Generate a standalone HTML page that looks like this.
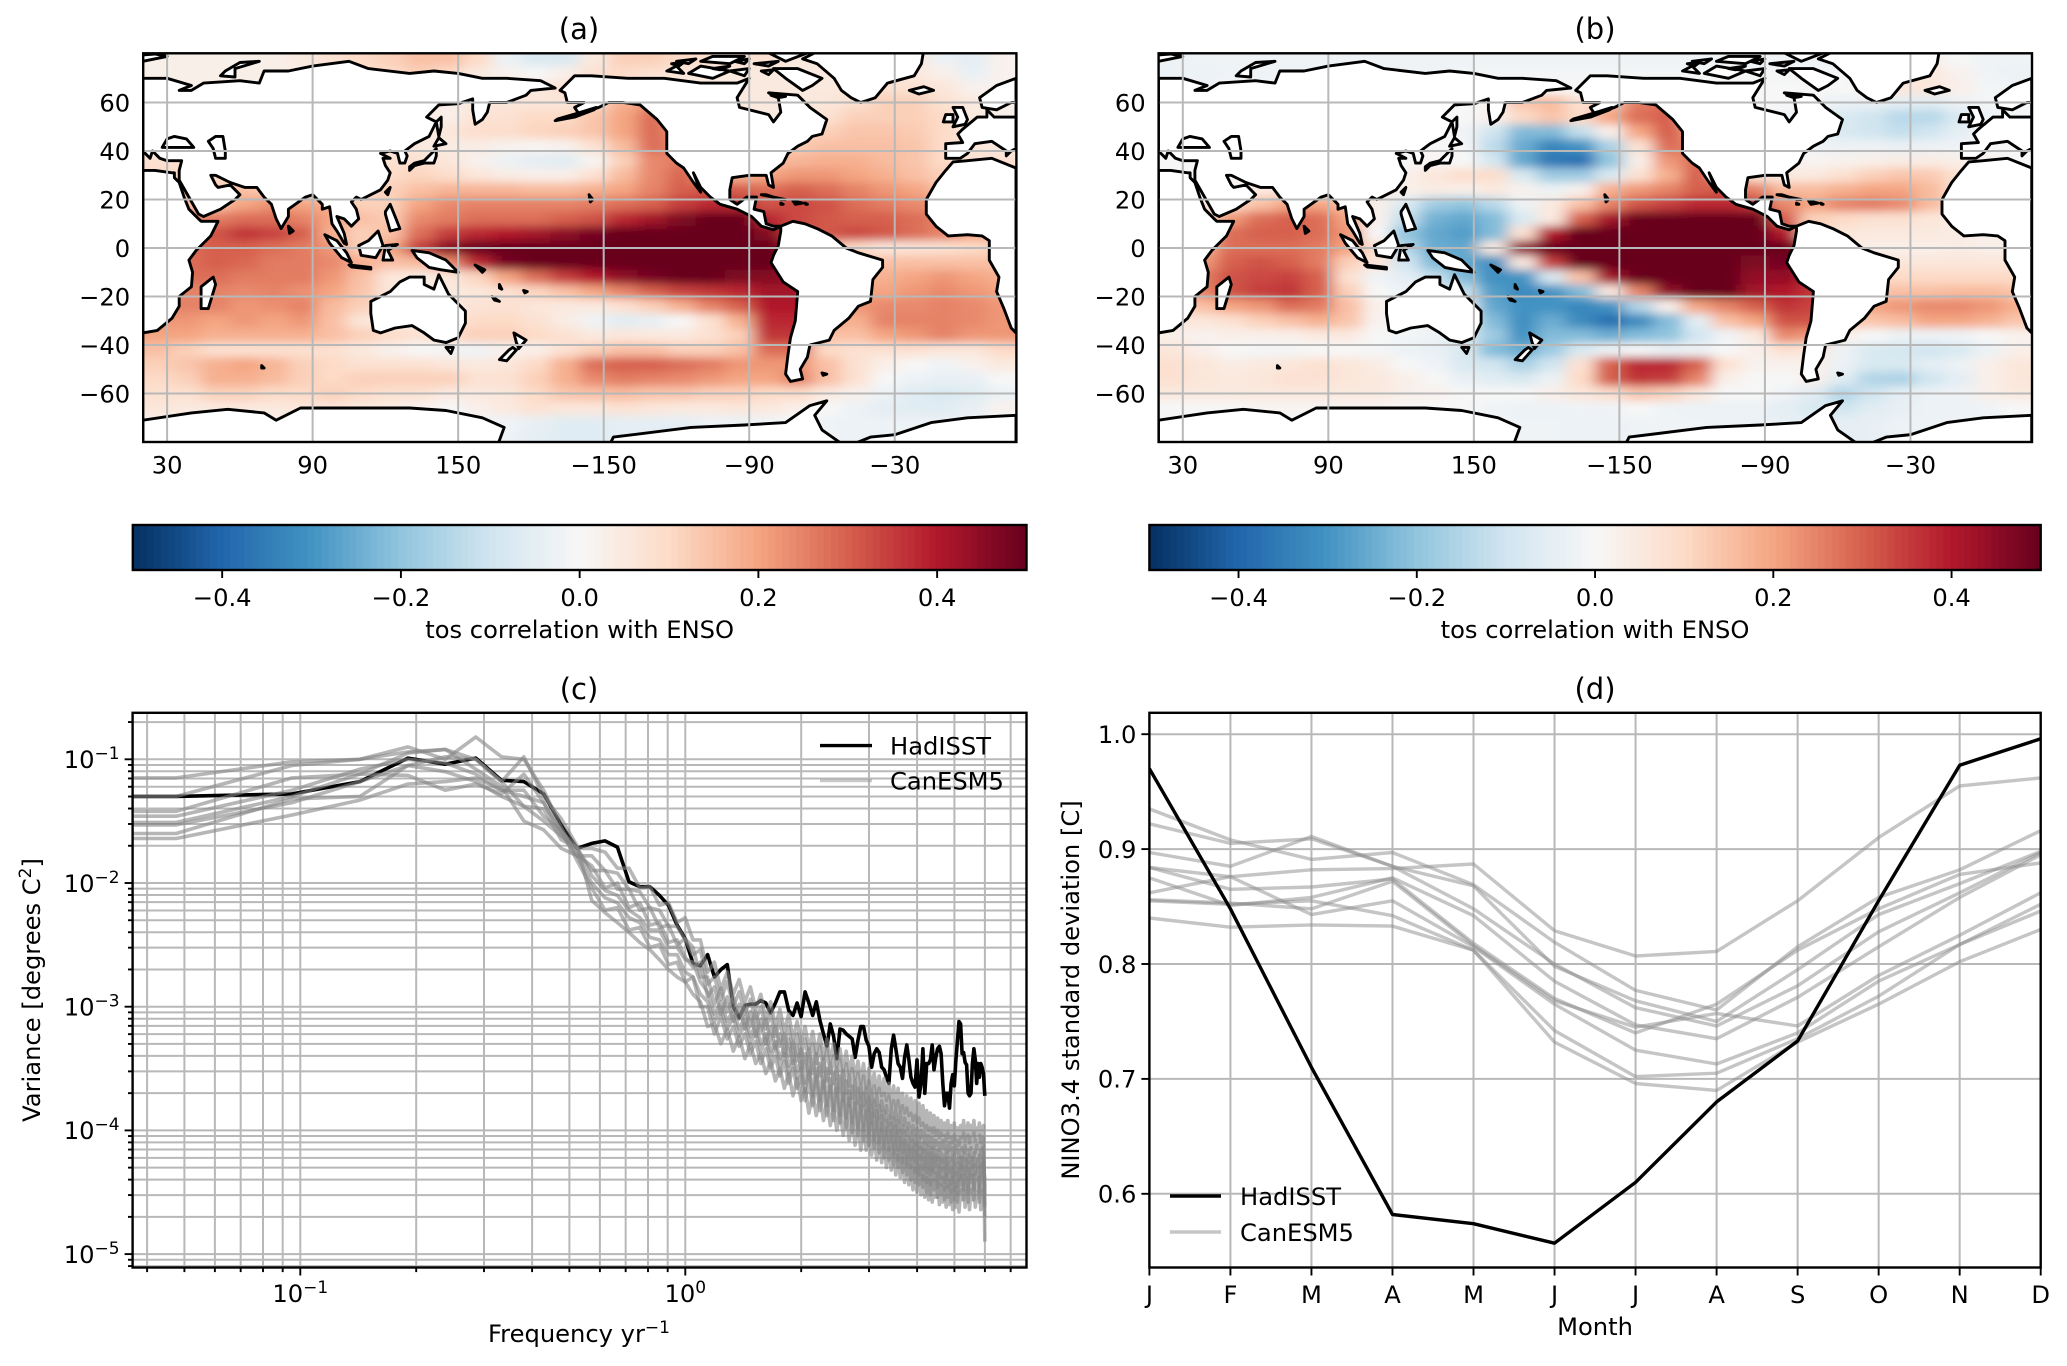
<!DOCTYPE html>
<html lang="en">
<head>
<meta charset="utf-8">
<title>ENSO teleconnections, spectrum and seasonality: HadISST and CanESM5</title>
<style>
html,body{margin:0;padding:0;background:#fff;width:2067px;height:1366px;overflow:hidden}
svg{display:block;font-family:"DejaVu Sans","Liberation Sans",sans-serif;font-size:24.2px;fill:#000}
</style>
</head>
<body>
<svg id="figure" xmlns="http://www.w3.org/2000/svg" width="2067" height="1366" viewBox="0 0 2067 1366">
<defs>
<filter id="map-blur" filterUnits="userSpaceOnUse" x="0" y="0" width="2067" height="500"><feGaussianBlur stdDeviation="8 4.5"/></filter>
<clipPath id="clip-a"><rect x="143" y="53" width="873.5" height="389"/></clipPath>
<clipPath id="clip-b"><rect x="1158.5" y="53" width="873.5" height="389"/></clipPath>
<clipPath id="clip-c"><rect x="132.6" y="712.8" width="893.9" height="554.7"/></clipPath>
<clipPath id="clip-d"><rect x="1149.4" y="712.8" width="891.3" height="554.7"/></clipPath>
</defs>
</svg>
<script>
/* ---------- map data: correlation x100 on a 12 x 6 degree grid ---------- */
const mapLons=[26,38,50,62,74,86,98,110,122,134,146,158,170,182,194,206,218,230,242,254,266,278,290,302,314,326,338,350,362,374];
const mapLats=[78,72,66,60,54,48,42,36,30,24,18,12,6,0,-6,-12,-18,-24,-30,-36,-42,-48,-54,-60,-66,-72,-78];
const lonTicks=[30,90,150,210,270,330];
const lonTickLabels=["30","90","150","\u2212150","\u221290","\u221230"];
const latTicks=[60,40,20,0,-20,-40,-60];
const latTickLabels=["60","40","20","0","\u221220","\u221240","\u221260"];
const tosA=[
[3,3,3,3,3,5,8,10,12,15,15,10,-3,-8,-8,5,12,12,10,8,8,8,5,5,5,5,5,-3,-5,2],
[3,3,3,3,3,3,5,8,10,12,10,5,2,0,3,8,10,8,6,5,5,5,5,5,6,6,5,3,-4,2],
[3,3,3,3,3,3,3,5,5,5,5,5,5,5,8,8,8,5,5,5,5,5,5,5,6,8,8,6,2,2],
[3,3,3,3,3,3,3,5,5,5,3,5,6,6,6,10,18,22,10,5,5,5,5,6,8,12,12,8,5,3],
[3,3,3,3,3,3,3,5,5,5,3,7,8,10,10,14,20,28,20,5,5,5,6,8,12,12,12,10,5,3],
[3,3,3,3,3,3,3,5,5,5,6,9,9,11,12,14,20,28,22,8,5,6,10,12,14,14,13,10,5,3],
[5,5,5,3,3,3,3,5,5,5,4,4,2,1,2,8,16,28,24,10,8,10,13,15,15,15,14,10,6,5],
[8,8,8,5,3,3,3,5,8,8,6,2,-3,-5,-6,1,12,24,26,14,12,15,17,18,18,16,14,10,8,8],
[10,10,10,8,5,3,3,5,10,11,9,6,4,3,3,8,16,24,29,20,18,20,22,22,20,18,15,12,10,10],
[12,12,12,15,12,8,5,8,12,15,17,17,17,16,16,18,20,25,30,32,30,28,30,28,25,22,20,15,12,12],
[15,15,15,20,23,20,18,12,12,20,24,25,25,25,25,26,28,30,35,38,38,32,33,32,28,26,24,22,20,18],
[22,25,26,28,28,25,20,15,13,24,26,28,28,28,30,32,38,42,47,50,50,38,33,31,30,30,28,25,22,20],
[25,30,32,36,34,30,18,12,15,28,35,38,40,42,45,48,50,50,50,50,50,46,32,31,33,31,28,25,20,18],
[25,28,30,30,28,26,22,12,20,35,46,50,50,50,50,50,50,50,50,50,50,50,40,15,10,6,7,8,10,12],
[25,28,30,29,26,26,24,18,15,16,24,38,48,50,50,50,50,50,50,50,50,50,40,15,15,15,15,15,15,15],
[25,28,28,26,26,26,22,15,6,4,6,11,20,28,35,40,45,48,50,50,47,46,42,18,18,18,20,22,20,18],
[25,25,25,24,25,23,20,14,6,4,5,6,8,11,15,20,25,30,34,36,38,42,42,20,20,20,22,24,22,20],
[25,25,25,22,23,25,16,12,6,4,5,7,8,6,5,5,8,12,18,25,30,40,40,22,22,24,24,25,24,22],
[22,22,20,22,20,22,15,6,4,4,6,10,10,8,4,-2,-6,-4,0,8,18,38,38,20,18,25,25,25,24,22],
[20,20,18,18,18,18,15,12,10,8,10,12,12,10,8,5,6,5,5,8,12,36,36,15,15,20,22,25,22,22],
[15,12,8,8,8,8,8,5,2,0,-1,-2,2,3,8,12,15,15,12,12,15,28,28,10,8,8,8,6,6,10],
[12,14,18,20,17,12,10,8,8,8,6,5,6,10,18,28,30,30,28,26,22,22,22,15,8,3,0,-2,2,5],
[10,12,18,18,16,12,10,12,12,12,12,8,8,12,18,24,26,25,24,22,20,20,25,15,8,0,-3,-4,-4,0],
[8,8,12,12,10,10,12,10,8,8,5,5,6,10,14,15,16,14,14,12,12,10,10,5,2,-3,-6,-8,-6,-3],
[6,5,5,5,5,6,6,5,4,2,0,3,5,8,6,6,8,6,5,5,6,5,3,0,-3,-5,-6,-6,-4,2],
[3,3,3,3,3,3,3,3,3,2,0,-2,-2,-4,-6,-6,-5,-5,-5,-3,-3,-2,0,-2,-3,-3,-3,-3,-3,0],
[0,0,0,0,0,0,0,0,0,0,0,-2,-3,-5,-6,-6,-5,-5,-4,-3,-2,-2,-1,-2,-3,-3,-2,-1,0,0]
];
const tosB=[
[-3,-2,-2,-2,-2,-2,-2,-2,-2,-2,-2,-2,-2,-2,-2,-2,-2,-2,-2,-2,-2,-2,-2,-2,-2,3,3,0,-2,-2],
[-3,-3,-2,-2,-2,-2,-2,-2,-2,-2,-1,-1,-1,-1,-1,-1,-1,-1,-1,-1,-1,-1,-1,0,3,5,5,2,-2,-3],
[-2,-2,-1,-1,-1,-1,-1,-1,-1,-1,0,0,0,0,0,0,2,2,0,0,0,0,0,0,3,6,6,3,-1,-2],
[-1,-1,-1,-1,-1,-1,-1,-1,-1,-1,0,2,14,16,8,14,26,28,5,0,0,0,-2,-3,-4,-5,-6,-3,-1,-1],
[-1,-1,-1,-1,-1,-1,-1,-1,-1,0,0,3,10,14,10,20,28,30,8,0,0,-2,-4,-8,-10,-14,-14,-8,-2,-1],
[-1,-1,-1,-1,-1,-1,-1,-1,-1,0,-2,-10,-22,-22,-12,3,20,30,20,2,0,0,-4,-8,-10,-12,-10,-5,-1,-1],
[0,0,0,0,0,0,0,0,0,0,-1,-13,-25,-33,-30,-16,8,28,25,5,0,0,-2,-3,-3,-4,-3,-2,0,0],
[0,0,0,0,0,0,0,0,0,1,0,-9,-26,-36,-38,-20,3,22,28,10,5,3,1,2,3,4,4,3,2,0],
[0,0,0,0,0,0,0,0,3,6,9,9,-8,-18,-18,-8,8,18,30,18,8,5,5,8,12,14,13,8,3,0],
[0,0,3,5,5,3,3,3,3,4,3,5,2,-3,2,18,22,25,30,32,25,16,16,18,20,20,16,8,3,2],
[3,5,10,15,20,20,15,3,-8,-18,-20,-14,-3,5,15,25,32,35,38,38,36,24,20,25,26,24,16,8,4,2],
[5,10,22,28,30,28,20,2,-12,-24,-26,-22,-8,5,30,42,50,50,50,50,50,30,12,10,8,8,6,4,3,2],
[8,15,28,30,30,28,22,0,-20,-26,-28,-22,8,40,50,50,50,50,50,50,50,40,10,6,5,5,5,4,3,2],
[10,18,28,28,28,26,20,8,-15,-25,-26,5,45,50,50,50,50,50,50,50,50,50,40,5,3,3,3,4,3,3],
[12,22,30,32,30,26,12,6,-10,-22,-26,-31,5,35,50,50,50,50,50,50,47,48,38,6,6,6,6,6,6,6],
[15,26,32,33,34,30,8,-2,-5,-12,-22,-31,-30,-8,15,42,50,50,50,50,44,44,38,10,10,10,10,10,10,10],
[12,25,32,35,36,30,12,0,-3,-6,-12,-28,-32,-30,-22,5,25,45,50,50,42,40,36,14,14,15,15,16,16,14],
[10,15,20,22,28,26,15,3,-2,-3,-6,-26,-30,-30,-33,-30,-15,3,20,25,30,36,34,18,20,22,24,24,22,18],
[6,6,8,12,15,18,14,2,-1,-2,-6,-22,-31,-25,-32,-38,-32,-22,-5,15,20,32,32,14,14,16,20,20,18,14],
[3,2,3,3,3,5,5,0,-1,-2,-8,-18,-30,-22,-22,-25,-22,-20,-10,-2,5,24,22,3,0,-3,-3,-2,0,2],
[6,3,0,-1,-1,0,0,-1,-3,-4,-8,-22,-25,-18,-8,-3,0,-3,-3,0,3,8,6,-3,-8,-9,-10,-8,-3,3],
[8,6,4,5,6,8,6,4,0,-2,-8,-10,-16,-10,8,30,38,38,30,8,2,2,3,-3,-8,-8,-5,-3,3,6],
[8,6,5,6,8,8,6,5,3,0,-4,-6,-8,-3,10,30,36,35,25,3,0,0,3,-6,-15,-16,-10,-5,3,6],
[5,5,5,5,5,5,5,5,3,2,0,0,0,3,6,9,14,12,6,0,0,-2,-6,-15,-10,-5,-3,-2,3,5],
[0,0,0,1,1,1,1,1,0,0,0,-2,-3,-3,-2,-2,0,-2,-3,-3,-3,-5,-8,-10,-6,-4,-3,-3,-2,0],
[-1,-1,-1,-1,-1,-1,-1,-1,-1,-1,-1,-1,-2,-2,-3,-3,-2,-2,-2,-3,-3,-4,-5,-5,-4,-3,-3,-2,-2,-1],
[-1,-1,-1,-1,-1,-1,-1,-1,-1,-1,-1,-1,-2,-2,-3,-3,-2,-2,-2,-3,-3,-4,-5,-5,-4,-3,-3,-2,-2,-1]
];
/* coastlines as [lon, lat] rings, lon running 20..380 */
const landRings=[
[[20,-35],[26,-34],[32,-29],[35,-24],[35,-20],[40,-16],[40.5,-10],[39,-5],[42,-1],[48,5],[51,11],[44,11],[43,12],[39,16],[37,21],[35,27],[33,29],[33,31],[32,31],[25,32],[20,32]],
[[380,-35],[378,-33],[375,-25],[372,-18],[373,-12],[369,-5],[369,-1],[369,3],[366,5],[360,5.5],[352,5],[347,9],[343,14],[343,20],[347,27],[351,32],[354,35.5],[360,36],[370,37],[380,33]],
[[351,37],[351,43],[358,43.5],[356,47],[358,49],[364,54],[368,54],[368,57],[371,54],[380,54],[380,60],[378,60],[372,57],[366,58],[365,62],[372,67],[380,70],[380,41],[378,40],[376,38],[376,40],[370,44],[363,43],[360,39],[357,37]],
[[20,40],[23,37],[24,40],[27,37],[30,36],[36,36],[35,32],[35,28],[39,21],[43,14],[45,13],[52,16],[58,20],[60,22],[56,26],[51,25],[50,26],[48,30],[50,30],[56,27],[62,25],[67,25],[70,21],[73,18],[75,12],[77,8],[80,13],[80,16],[87,21],[90,22],[94,18],[94,16],[97,17],[98,10],[100,7],[103,2],[104,1.5],[103,6],[100,13],[103,12],[106,9],[109,12],[108,16],[106,19],[108,21],[110,20],[114,22],[118,24],[121,28],[122,31],[120,34],[119,37],[122,37],[118,39],[122,40],[125,39],[126,35],[128,35],[129,38],[128,40],[132,43],[138,46],[141,52],[137,54],[142,59],[150,59.5],[156,61.5],[156,57],[157,51],[160,53],[162,56],[163,60],[170,60],[178,63],[180,65],[190,66],[184,69],[170,70],[160,70],[150,72],[140,73],[130,72],[113,74],[105,77],[90,75],[80,73],[70,73],[68,68],[60,69],[45,68],[40,65],[35,65],[40,67],[30,70],[20,70]],
[[192,65],[198,71],[205,71],[220,70],[235,70],[250,68],[265,68],[270,70],[265,62],[266,58],[278,55],[280,52],[283,56],[282,62],[278,64],[290,63],[295,58],[302,53],[300,47],[296,46],[294,44],[290,42],[286,39],[284,35],[279,31],[280,25],[278,26],[277,30],[270,30],[263,29],[262,24],[262,20],[265,18],[269,21],[273,21],[272,16],[276,15],[277,10],[280,9],[283,9],[280,7.5],[275,9],[271,13],[265,16],[258,18],[254,21],[250,25],[247,31],[250,23],[247,27],[243,33],[240,35],[236,39],[236,48],[232,53],[225,59],[218,60],[212,60],[208,58],[200,55],[198,58],[202,60],[195,60],[194,64]],
[[283,9],[288,11],[293,10],[298,8],[304,5],[310,0],[315,-2],[325,-5],[325,-8],[321,-13],[320,-22],[315,-24],[311,-29],[305,-34],[303,-38],[295,-40],[294,-45],[291,-50],[292,-54],[287,-55],[285,-52],[286,-44],[287,-37],[289,-30],[290,-18],[284,-14],[279,-6],[280,-3],[282,1],[283,7]],
[[316,60],[322,62],[327,68],[338,71],[341,76],[342,82],[300,82],[292,78],[298,76],[305,70],[308,65],[312,62]],
[[285,70],[292,65],[296,67],[300,70],[290,74],[280,74]],[[245,72],[255,70],[262,73],[250,75]],[[275,82],[285,77],[298,82]],[[236,73],[240,75],[243,72]],[[250,77],[262,76],[268,79],[255,79]],[[262,73],[270,74],[268,71]],[[272,76],[282,77],[278,75]],[[240,77],[248,78],[245,76]],[[255,74],[262,75],[258,73.5]],[[264,77],[270,78],[268,76]],[[275,73],[280,73.5],[278,71.5]],[[238,76],[243,76.5],[241,75]],[[279,63],[285,62.5],[282,62]],
[[336,65],[340,63.5],[346,65],[342,66.5]],[[354,50],[359,51],[360,53],[358,58],[354,58],[356,54]],[[350,52],[354,52],[354,55],[351,55]],
[[12,79],[25,80],[30,79],[20,77]],[[52,71],[58,70.5],[58,74],[68,77],[60,76.5],[54,73]],
[[130,32],[132,34],[136,35],[140,35],[141,38],[141,41],[140,40],[136,36],[132,35],[130,33.5]],[[140,42],[145,43],[142,45.5]],[[142,46],[143,50],[143,54],[141,52]],
[[120,23],[122,25],[121,22]],[[120,15],[122,18],[124,13],[126,8],[122,7],[120,14]],[[109,1],[113,3],[117,7],[119,1],[116,-4],[110,-3]],[[95,5.5],[100,3],[104,-2],[106,-6],[102,-4],[97,2]],[[105,-7],[114,-8],[114,-8.7],[106,-7.8]],[[119,-5],[120,1],[125,1.5],[121,-1],[123,-5]],[[131,-1],[138,-2],[145,-5],[150,-10],[143,-9],[138,-8],[133,-4]],
[[114,-22],[122,-18],[126,-14],[130,-12],[136,-12],[136,-15],[140,-17],[142,-11],[146,-19],[153,-26],[153,-31],[150,-37],[145,-39],[140,-38],[136,-35],[131,-32],[124,-33],[118,-35],[115,-34],[114,-27]],
[[145,-41],[148,-41],[147,-43.5]],[[173,-35],[178,-38],[175,-41.5],[174,-39]],[[172.5,-41],[174,-42],[170,-46.5],[167,-46],[171,-42]],[[44,-25],[47,-25],[50,-15],[49,-12],[44,-16],[44,-22]],[[80,9],[82,7],[80.5,6]],
[[204,22],[205.5,20],[204.5,19]],[[177,-17.5],[178.5,-18],[177.5,-18.5]],[[164,-20],[167,-22],[165,-21.5]],[[167,-15],[168,-17],[167,-16.5]],[[157,-7],[161,-9],[160,-10]],[[300,-51.5],[302,-52],[300.5,-52.5]],[[69,-48.5],[70,-49.5],[69,-49.5]],
[[190,52.5],[198,54],[206,57],[207,58],[199,55.5],[191,53.2]],
[[275,22],[285,20],[283,20],[277,22]],[[288,19.5],[292,18.5],[289,18]],[[293,18.5],[294,18],[293.3,18]],[[283,18.5],[284,18],[283,18]],
[[50,46],[53,46],[54,40],[54,37],[50,37],[49,41],[47,44]],
[[28,41.5],[41,41.5],[38,45],[33,46],[30,45]],
[[20,-71],[40,-68],[55,-66.5],[70,-68],[75,-71],[85,-66],[100,-66],[130,-66],[145,-67],[160,-70],[169,-74],[166,-82],[212,-82],[214,-78],[246,-74],[268,-73],[285,-72],[295,-65],[302,-63],[297,-69],[300,-75],[310,-82],[320,-78],[330,-77],[345,-72],[360,-70],[380,-69],[380,-90],[20,-90]]
];
/* ---------- colour bar ---------- */
const rdBuStops=["#053061","#2166ac","#4393c3","#92c5de","#d1e5f0","#f7f7f7","#fddbc7","#f4a582","#d6604d","#b2182b","#67001f"];
const cbarTicks=[-0.4,-0.2,0,0.2,0.4];
const cbarTickLabels=["\u22120.4","\u22120.2","0.0","0.2","0.4"];
/* ---------- panel c: log10(variance) x100, one value per frequency harmonic ---------- */
const freqStep=0.0476;
const freqLeftEdge=0.0366;
const hadSpectrum=[-130,-128,-118,-99,-104,-99,-117,-118,-128,-153,-172,-168,-166,-171,-199,-203,-203,-210,-218,-234,-245,-265,-267,-258,-276,-270,-266,-300,-309,-299,-298,-298,-295,-297,-305,-297,-288,-288,-303,-307,-297,-308,-288,-297,-307,-296,-311,-322,-332,-314,-324,-342,-318,-319,-322,-324,-326,-341,-327,-316,-316,-327,-332,-349,-338,-334,-337,-349,-351,-357,-362,-334,-323,-334,-346,-349,-358,-341,-331,-343,-357,-362,-365,-343,-373,-362,-334,-370,-346,-346,-343,-331,-351,-341,-334,-332,-338,-362,-380,-370,-370,-382,-362,-355,-364,-343,-327,-312,-314,-338,-337,-345,-347,-370,-372,-370,-346,-334,-343,-362,-346,-357,-346,-349,-354,-372];
const canSpectrumA=[-115,-102,-100,-94,-92,-100,-118,-138,-150,-162,-172,-172,-175,-188,-188,-204,-203,-218,-216,-232,-228,-246,-246,-272,-264,-286,-272,-290,-278,-296,-284,-302,-290,-310,-296,-316,-302,-320,-306,-326,-312,-330,-316,-334,-320,-338,-322,-342,-326,-344,-330,-348,-334,-352,-336,-354,-340,-358,-344,-362,-346,-366,-350,-366,-354,-370,-356,-372,-358,-376,-362,-380,-364,-382,-366,-384,-370,-386,-372,-388,-374,-392,-376,-394,-378,-396,-380,-398,-384,-400,-386,-402,-388,-404,-390,-406,-392,-404,-394,-408,-392,-406,-396,-410,-394,-408,-398,-412,-396,-406,-392,-408,-400,-394,-410,-396,-404,-392,-408,-398,-402,-394,-410,-398,-396,-490];
const canSpectrumB=[-130,-105,-100,-90,-100,-82,-98,-100,-125,-155,-178,-178,-190,-192,-205,-207,-220,-222,-235,-235,-246,-258,-254,-282,-276,-294,-280,-300,-288,-306,-294,-312,-300,-318,-306,-324,-312,-330,-316,-336,-322,-340,-326,-344,-330,-346,-332,-352,-334,-354,-340,-358,-342,-362,-346,-364,-350,-368,-354,-372,-356,-376,-360,-378,-364,-380,-366,-384,-370,-386,-372,-390,-376,-392,-376,-394,-380,-396,-382,-398,-386,-402,-388,-404,-390,-406,-394,-410,-396,-412,-398,-414,-398,-412,-400,-416,-402,-414,-404,-418,-402,-416,-406,-420,-404,-418,-408,-422,-406,-416,-402,-418,-410,-404,-420,-406,-414,-402,-418,-408,-412,-404,-420,-408,-406,-460];
const canSpectrumC=[-146,-125,-108,-100,-103,-112,-125,-125,-146,-158,-172,-190,-190,-205,-205,-222,-220,-236,-234,-250,-245,-252,-276,-276,-298,-285,-304,-292,-310,-298,-316,-304,-320,-310,-328,-316,-332,-322,-340,-328,-344,-334,-350,-334,-354,-338,-356,-342,-360,-346,-362,-350,-368,-352,-370,-356,-374,-360,-378,-364,-380,-366,-384,-368,-388,-372,-390,-376,-392,-380,-396,-382,-398,-384,-402,-386,-402,-390,-404,-394,-408,-396,-412,-398,-414,-400,-418,-402,-420,-404,-422,-406,-424,-408,-424,-410,-426,-408,-426,-412,-428,-410,-424,-414,-428,-412,-426,-416,-430,-414,-424,-412,-428,-416,-426,-414,-424,-418,-428,-412,-422,-416,-430,-414,-424,-445];
const canSpectrumD=[-151,-130,-112,-95,-92,-108,-122,-150,-157,-172,-178,-186,-204,-200,-220,-216,-234,-232,-248,-246,-260,-268,-264,-292,-284,-306,-292,-312,-298,-318,-304,-324,-310,-330,-316,-334,-322,-340,-326,-346,-332,-352,-338,-358,-342,-360,-346,-366,-350,-368,-354,-372,-356,-376,-360,-380,-364,-382,-366,-386,-370,-388,-374,-394,-376,-396,-380,-400,-384,-402,-388,-406,-390,-408,-392,-412,-396,-414,-398,-416,-402,-420,-404,-422,-406,-424,-410,-428,-412,-430,-414,-432,-414,-428,-416,-434,-418,-432,-420,-436,-418,-434,-422,-438,-420,-436,-424,-440,-422,-432,-418,-436,-426,-420,-438,-422,-430,-418,-436,-424,-428,-420,-438,-424,-422,-452];
const canSpectrumE=[-153,-135,-118,-105,-110,-118,-130,-138,-140,-165,-172,-194,-206,-210,-222,-228,-238,-238,-252,-252,-262,-264,-280,-288,-306,-296,-312,-302,-318,-308,-324,-314,-330,-322,-336,-328,-342,-332,-348,-338,-352,-344,-362,-346,-368,-350,-370,-354,-374,-358,-378,-360,-382,-364,-384,-368,-388,-372,-392,-374,-394,-378,-398,-380,-402,-384,-404,-388,-408,-392,-410,-394,-414,-396,-416,-400,-418,-402,-422,-406,-424,-408,-426,-410,-430,-414,-432,-416,-434,-418,-436,-418,-434,-420,-440,-422,-438,-424,-442,-422,-440,-426,-444,-424,-442,-428,-446,-426,-438,-422,-442,-430,-424,-444,-426,-436,-422,-442,-428,-434,-424,-444,-428,-430,-426,-440];
const canSpectrumF=[-164,-145,-133,-120,-118,-115,-125,-130,-135,-160,-178,-200,-212,-216,-228,-232,-244,-246,-258,-258,-272,-276,-290,-296,-312,-302,-318,-308,-324,-314,-330,-320,-336,-326,-342,-332,-348,-338,-354,-344,-358,-350,-368,-352,-372,-356,-376,-360,-380,-364,-384,-366,-388,-370,-390,-374,-394,-378,-398,-380,-400,-384,-404,-386,-408,-390,-410,-394,-414,-398,-416,-400,-420,-402,-424,-406,-426,-408,-428,-412,-430,-414,-434,-416,-436,-420,-440,-422,-442,-424,-444,-424,-440,-426,-446,-428,-444,-430,-448,-428,-446,-432,-450,-430,-448,-434,-452,-432,-444,-428,-448,-436,-430,-450,-432,-442,-428,-448,-434,-440,-430,-450,-434,-436,-432,-448];
const canSpectrumG=[-142,-115,-112,-113,-125,-120,-128,-112,-135,-158,-182,-204,-222,-220,-238,-236,-252,-250,-266,-264,-280,-276,-300,-300,-322,-308,-326,-316,-332,-322,-338,-328,-346,-334,-350,-340,-356,-344,-362,-350,-366,-356,-376,-360,-380,-362,-384,-366,-388,-370,-392,-374,-394,-376,-398,-380,-402,-384,-404,-388,-408,-390,-412,-394,-414,-398,-418,-400,-422,-404,-424,-408,-428,-410,-430,-414,-434,-416,-436,-418,-440,-422,-442,-424,-444,-428,-446,-430,-450,-432,-452,-432,-448,-434,-454,-436,-452,-438,-456,-436,-454,-440,-458,-438,-456,-442,-458,-440,-450,-436,-456,-444,-438,-458,-440,-450,-436,-456,-442,-448,-438,-458,-442,-444,-440,-470];
const canSpectrumH=[-160,-132,-130,-105,-98,-100,-118,-98,-130,-148,-170,-214,-224,-232,-240,-248,-254,-262,-270,-276,-280,-290,-296,-316,-314,-330,-318,-336,-324,-342,-330,-346,-338,-354,-344,-360,-350,-366,-354,-372,-358,-376,-366,-386,-370,-388,-372,-392,-376,-396,-380,-400,-384,-404,-386,-408,-390,-412,-394,-416,-396,-416,-400,-420,-404,-424,-406,-426,-410,-430,-414,-432,-416,-436,-420,-438,-422,-442,-424,-444,-428,-448,-430,-450,-432,-452,-436,-454,-438,-456,-440,-458,-440,-454,-442,-460,-444,-458,-446,-462,-444,-460,-448,-464,-446,-462,-450,-466,-448,-456,-444,-462,-452,-446,-464,-448,-456,-444,-462,-450,-454,-446,-464,-450,-448,-462];
const canSpectra=[canSpectrumA,canSpectrumB,canSpectrumC,canSpectrumD,canSpectrumE,canSpectrumF,canSpectrumG,canSpectrumH];
const specXTicks=[0.1,1];
const specXTickLabels=["\u22121","0"];
const specYTicks=[-1,-2,-3,-4,-5];
const specYTickLabels=["\u22121","\u22122","\u22123","\u22124","\u22125"];
/* ---------- panel d: NINO3.4 standard deviation by month ---------- */
const months=["J","F","M","A","M","J","J","A","S","O","N","D"];
const hadSeason=[0.970,0.848,0.710,0.582,0.574,0.557,0.610,0.680,0.733,0.855,0.973,0.996];
const canSeason1=[0.884,0.876,0.882,0.883,0.887,0.829,0.807,0.811,0.855,0.910,0.955,0.962];
const canSeason2=[0.935,0.908,0.891,0.897,0.869,0.819,0.777,0.760,0.815,0.858,0.882,0.916];
const canSeason3=[0.922,0.905,0.909,0.885,0.868,0.798,0.768,0.750,0.795,0.843,0.870,0.898];
const canSeason4=[0.897,0.885,0.911,0.885,0.848,0.800,0.762,0.746,0.781,0.828,0.862,0.897];
const canSeason5=[0.875,0.851,0.858,0.875,0.842,0.785,0.747,0.735,0.771,0.815,0.858,0.895];
const canSeason6=[0.884,0.865,0.867,0.874,0.818,0.770,0.740,0.765,0.812,0.848,0.878,0.888];
const canSeason7=[0.856,0.853,0.848,0.872,0.816,0.768,0.745,0.757,0.746,0.790,0.825,0.862];
const canSeason8=[0.862,0.876,0.843,0.855,0.815,0.765,0.725,0.713,0.740,0.785,0.817,0.852];
const canSeason9=[0.855,0.852,0.855,0.842,0.812,0.742,0.702,0.705,0.735,0.772,0.817,0.846];
const canSeason10=[0.840,0.832,0.834,0.833,0.812,0.732,0.696,0.690,0.732,0.765,0.802,0.830];
const canSeasons=[canSeason1,canSeason2,canSeason3,canSeason4,canSeason5,canSeason6,canSeason7,canSeason8,canSeason9,canSeason10];
const seasonYTicks=[1.0,0.9,0.8,0.7,0.6];

const NS="http://www.w3.org/2000/svg";
const fig=document.getElementById("figure");
function mk(tag,parent){const n=document.createElementNS(NS,tag);parent.appendChild(n);return n;}
function setA(n,o){for(const k in o)n.setAttribute(k,o[k]);return n;}
function hexRgb(h){return [1,3,5].map(i=>parseInt(h.substr(i,2),16));}
function rdBu(v){
  const t=Math.max(0,Math.min(1,v+0.5))*(rdBuStops.length-1);
  const i=Math.min(rdBuStops.length-2,Math.floor(t)),f=t-i;
  const a=hexRgb(rdBuStops[i]),b=hexRgb(rdBuStops[i+1]);
  return "rgb("+a.map((c,j)=>Math.round(c+(b[j]-c)*f)).join(",")+")";
}
function label(parent,x,y,str,anchor,name){
  const t=mk("text",parent);
  
  
  setA(t,{x:x,y:y,"text-anchor":anchor});
  t.textContent=str;
  return t;
}
function gridLine(parent,x1,y1,x2,y2){
  const l=mk("line",parent);
  
  
  setA(l,{x1:x1,y1:y1,x2:x2,y2:y2,stroke:"#b8b8b8","stroke-width":2});
}
function tickMark(parent,x1,y1,x2,y2,w){
  const l=mk("line",parent);
  
  
  setA(l,{x1:x1,y1:y1,x2:x2,y2:y2,stroke:"#000","stroke-width":w||1.9});
}
function frame(parent,x,y,w,h){
  const r=mk("rect",parent);
  
  
  setA(r,{x:x,y:y,width:w,height:h,fill:"none",stroke:"#000","stroke-width":2.4});
}
function pathFrom(pts){return pts.map((p,i)=>(i?"L":"M")+p[0].toFixed(1)+" "+p[1].toFixed(1)).join("");}

/* ---------- maps ---------- */
function drawMap(key,rows,lon30X,left,right){
  const top=53.3,bottom=442;
  const lonX=lon=>lon30X+(lon-30)*2.4255;
  const latY=lat=>248-2.425*lat;
  const g=mk("g",fig);
  
  
  const clip=mk("g",g);
  
  
  clip.setAttribute("clip-path","url(#clip-"+key+")");
  const cells=mk("g",clip);
  
  
  cells.setAttribute("filter","url(#map-blur)");
  const dLon=mapLons[1]-mapLons[0],dLat=mapLats[0]-mapLats[1];
  rows.forEach((row,r)=>{
    row.forEach((val,c)=>{
      const cell=mk("rect",cells);
      
      
      let x0=lonX(mapLons[c]-dLon/2),x1=lonX(mapLons[c]+dLon/2)+0.6;
      let y0=latY(mapLats[r]+dLat/2),y1=latY(mapLats[r]-dLat/2)+0.6;
      if(c===0)x0-=40;
      if(c===row.length-1)x1+=40;
      if(r===0)y0-=40;
      if(r===rows.length-1)y1+=40;
      setA(cell,{x:x0.toFixed(1),y:y0.toFixed(1),width:(x1-x0).toFixed(1),height:(y1-y0).toFixed(1),fill:rdBu(val/100)});
    });
  });
  landRings.forEach(ring=>{
    const p=mk("path",clip);
    
    
    setA(p,{d:pathFrom(ring.map(q=>[lonX(q[0]),latY(q[1])]))+"Z",fill:"#fff",stroke:"#000","stroke-width":2.9,"stroke-linejoin":"round"});
  });
  lonTicks.forEach(t=>gridLine(clip,lonX(t),top,lonX(t),bottom));
  latTicks.forEach(t=>gridLine(clip,left,latY(t),right,latY(t)));
  frame(g,left,top,right-left,bottom-top);
  lonTicks.forEach((t,i)=>label(g,lonX(t),473.5,lonTickLabels[i],"middle","longitude-tick-label"));
  latTicks.forEach((t,i)=>label(g,left-13,latY(t)+8.8,latTickLabels[i],"end","latitude-tick-label"));
}
drawMap("a",tosA,167.1,143.2,1016.4);
drawMap("b",tosB,1182.8,1158.6,2032);

/* ---------- colour bars ---------- */
function drawCbar(key,x0,x1){
  const g=mk("g",fig);
  
  
  const w=x1-x0;
  const vx=v=>x0+(v+0.5)*w;
  const n=128;
  for(let i=0;i<n;i++){
    const s=mk("rect",g);
    
    
    const v=(i+0.5)/n-0.5;
    setA(s,{x:(x0+i*w/n).toFixed(2),y:525,width:(w/n+0.6).toFixed(2),height:45,fill:rdBu(v)});
  }
  frame(g,x0,525,w,45);
  cbarTicks.forEach((t,i)=>{
    tickMark(g,vx(t),570,vx(t),578);
    label(g,vx(t),606,cbarTickLabels[i],"middle","colorbar-tick-label");
  });
  label(g,(x0+x1)/2,638,"tos correlation with ENSO","middle","colorbar-title");
}
drawCbar("a",132.8,1026.5);
drawCbar("b",1149.4,2040.7);

/* ---------- panel titles ---------- */
const titleA=label(fig,579,39,"(a)","middle","panel-title-a");
titleA.setAttribute("font-size","29");
const titleB=label(fig,1595,39,"(b)","middle","panel-title-b");
titleB.setAttribute("font-size","29");
const titleC=label(fig,579,699,"(c)","middle","panel-title-c");
titleC.setAttribute("font-size","29");
const titleD=label(fig,1595,699,"(d)","middle","panel-title-d");
titleD.setAttribute("font-size","29");

/* ---------- panel c ---------- */
(function(){
  const L=132.6,R=1026.5,T=712.8,B=1267.5;
  const fx=f=>685.3+385*Math.log10(f);
  const ly=v=>759.3-123.7*(v+1);
  const g=mk("g",fig);
  
  
  const clip=mk("g",g);
  
  
  clip.setAttribute("clip-path","url(#clip-c)");
  for(let d=-2;d<=0;d++)for(let m=1;m<=9;m++){
    const f=m*Math.pow(10,d),x=fx(f);
    if(x<L||x>R)continue;
    gridLine(clip,x,T,x,B);
    tickMark(g,x,B,x,B+(m===1?8:4.6));
  }
  for(let d=-6;d<=-1;d++)for(let m=1;m<=9;m++){
    const y=ly(d+Math.log10(m));
    if(y<T||y>B)continue;
    gridLine(clip,L,y,R,y);
    tickMark(g,L,y,L-(m===1?8:4.6),y);
  }
  function specLine(vals,name,color,op){
    const pts=[[fx(freqLeftEdge),ly(vals[0]/100)]];
    vals.forEach((v,i)=>pts.push([fx((i+1)*freqStep),ly(v/100)]));
    const p=mk("path",clip);
    
    
    setA(p,{d:pathFrom(pts),fill:"none",stroke:color,"stroke-width":3.6,"stroke-opacity":op,"stroke-linejoin":"round"});
  }
  specLine(hadSpectrum,"hadisst-spectrum-line","#000",1);
  canSpectra.forEach(s=>specLine(s,"canesm5-spectrum-line","#858585",0.6));
  frame(g,L,T,R-L,B-T);
  function powerLabel(x,y,exp,name){
    const t=label(g,x,y,"10","middle",name);
    const s=mk("tspan",t);
    s.setAttribute("dy","-9");
    s.setAttribute("font-size","17");
    s.textContent=exp;
  }
  specXTicks.forEach((f,i)=>powerLabel(fx(f),1302,specXTickLabels[i],"x-tick-label"));
  specYTicks.forEach((v,i)=>{
    const t=label(g,L-13,ly(v)+8.8,"10","end","y-tick-label");
    const s=mk("tspan",t);
    s.setAttribute("dy","-9");
    s.setAttribute("font-size","17");
    s.textContent=specYTickLabels[i];
  });
  const xt=label(g,579,1342,"Frequency yr","middle","x-axis-title");
  const xs=mk("tspan",xt);
  xs.setAttribute("dy","-9");
  xs.setAttribute("font-size","17");
  xs.textContent="\u22121";
  const yt=label(g,0,0,"Variance [degrees C","middle","y-axis-title");
  yt.setAttribute("transform","translate(40 990) rotate(-90)");
  const ys=mk("tspan",yt);
  ys.setAttribute("dy","-9");
  ys.setAttribute("font-size","17");
  ys.textContent="2";
  const ye=mk("tspan",yt);
  ye.setAttribute("dy","9");
  ye.textContent="]";
  const entries=[["HadISST","#000",1,745.6],["CanESM5","#939393",0.5,780.6]];
  entries.forEach(e=>{
    const l=mk("line",g);
    
    
    setA(l,{x1:820,x2:872,y1:e[3],y2:e[3],stroke:e[1],"stroke-width":3.4,"stroke-opacity":e[2]});
    label(g,890,e[3]+8.8,e[0],"start","legend-label-"+e[0].toLowerCase());
  });
})();

/* ---------- panel d ---------- */
(function(){
  const L=1149.4,R=2040.7,T=712.8,B=1267.5;
  const mx=i=>L+i*(R-L)/(months.length-1);
  const vy=v=>734.2+(1-v)*1149;
  const g=mk("g",fig);
  
  
  const clip=mk("g",g);
  
  
  clip.setAttribute("clip-path","url(#clip-d)");
  months.forEach((m,i)=>{
    gridLine(clip,mx(i),T,mx(i),B);
    tickMark(g,mx(i),B,mx(i),B+8);
    label(g,mx(i),1303,m,"middle","month-tick-label");
  });
  seasonYTicks.forEach(v=>{
    gridLine(clip,L,vy(v),R,vy(v));
    tickMark(g,L,vy(v),L-8,vy(v));
    label(g,L-13,vy(v)+8.8,v.toFixed(1),"end","y-tick-label");
  });
  canSeasons.forEach(s=>{
    const p=mk("path",clip);
    
    
    setA(p,{d:pathFrom(s.map((v,i)=>[mx(i),vy(v)])),fill:"none",stroke:"#8c8c8c","stroke-width":3.4,"stroke-opacity":0.5,"stroke-linejoin":"round"});
  });
  const h=mk("path",clip);
  
  
  setA(h,{d:pathFrom(hadSeason.map((v,i)=>[mx(i),vy(v)])),fill:"none",stroke:"#000","stroke-width":3.4,"stroke-linejoin":"round"});
  frame(g,L,T,R-L,B-T);
  label(g,1595,1335,"Month","middle","x-axis-title");
  const yt=label(g,0,0,"NINO3.4 standard deviation [C]","middle","y-axis-title");
  yt.setAttribute("transform","translate(1079 990) rotate(-90)");
  const entries=[["HadISST","#000",1,1196],["CanESM5","#8c8c8c",0.5,1232]];
  entries.forEach(e=>{
    const l=mk("line",g);
    
    
    setA(l,{x1:1170,x2:1221,y1:e[3],y2:e[3],stroke:e[1],"stroke-width":3.4,"stroke-opacity":e[2]});
    label(g,1240,e[3]+8.8,e[0],"start","legend-label-"+e[0].toLowerCase());
  });
})();
</script>
</body>
</html>
